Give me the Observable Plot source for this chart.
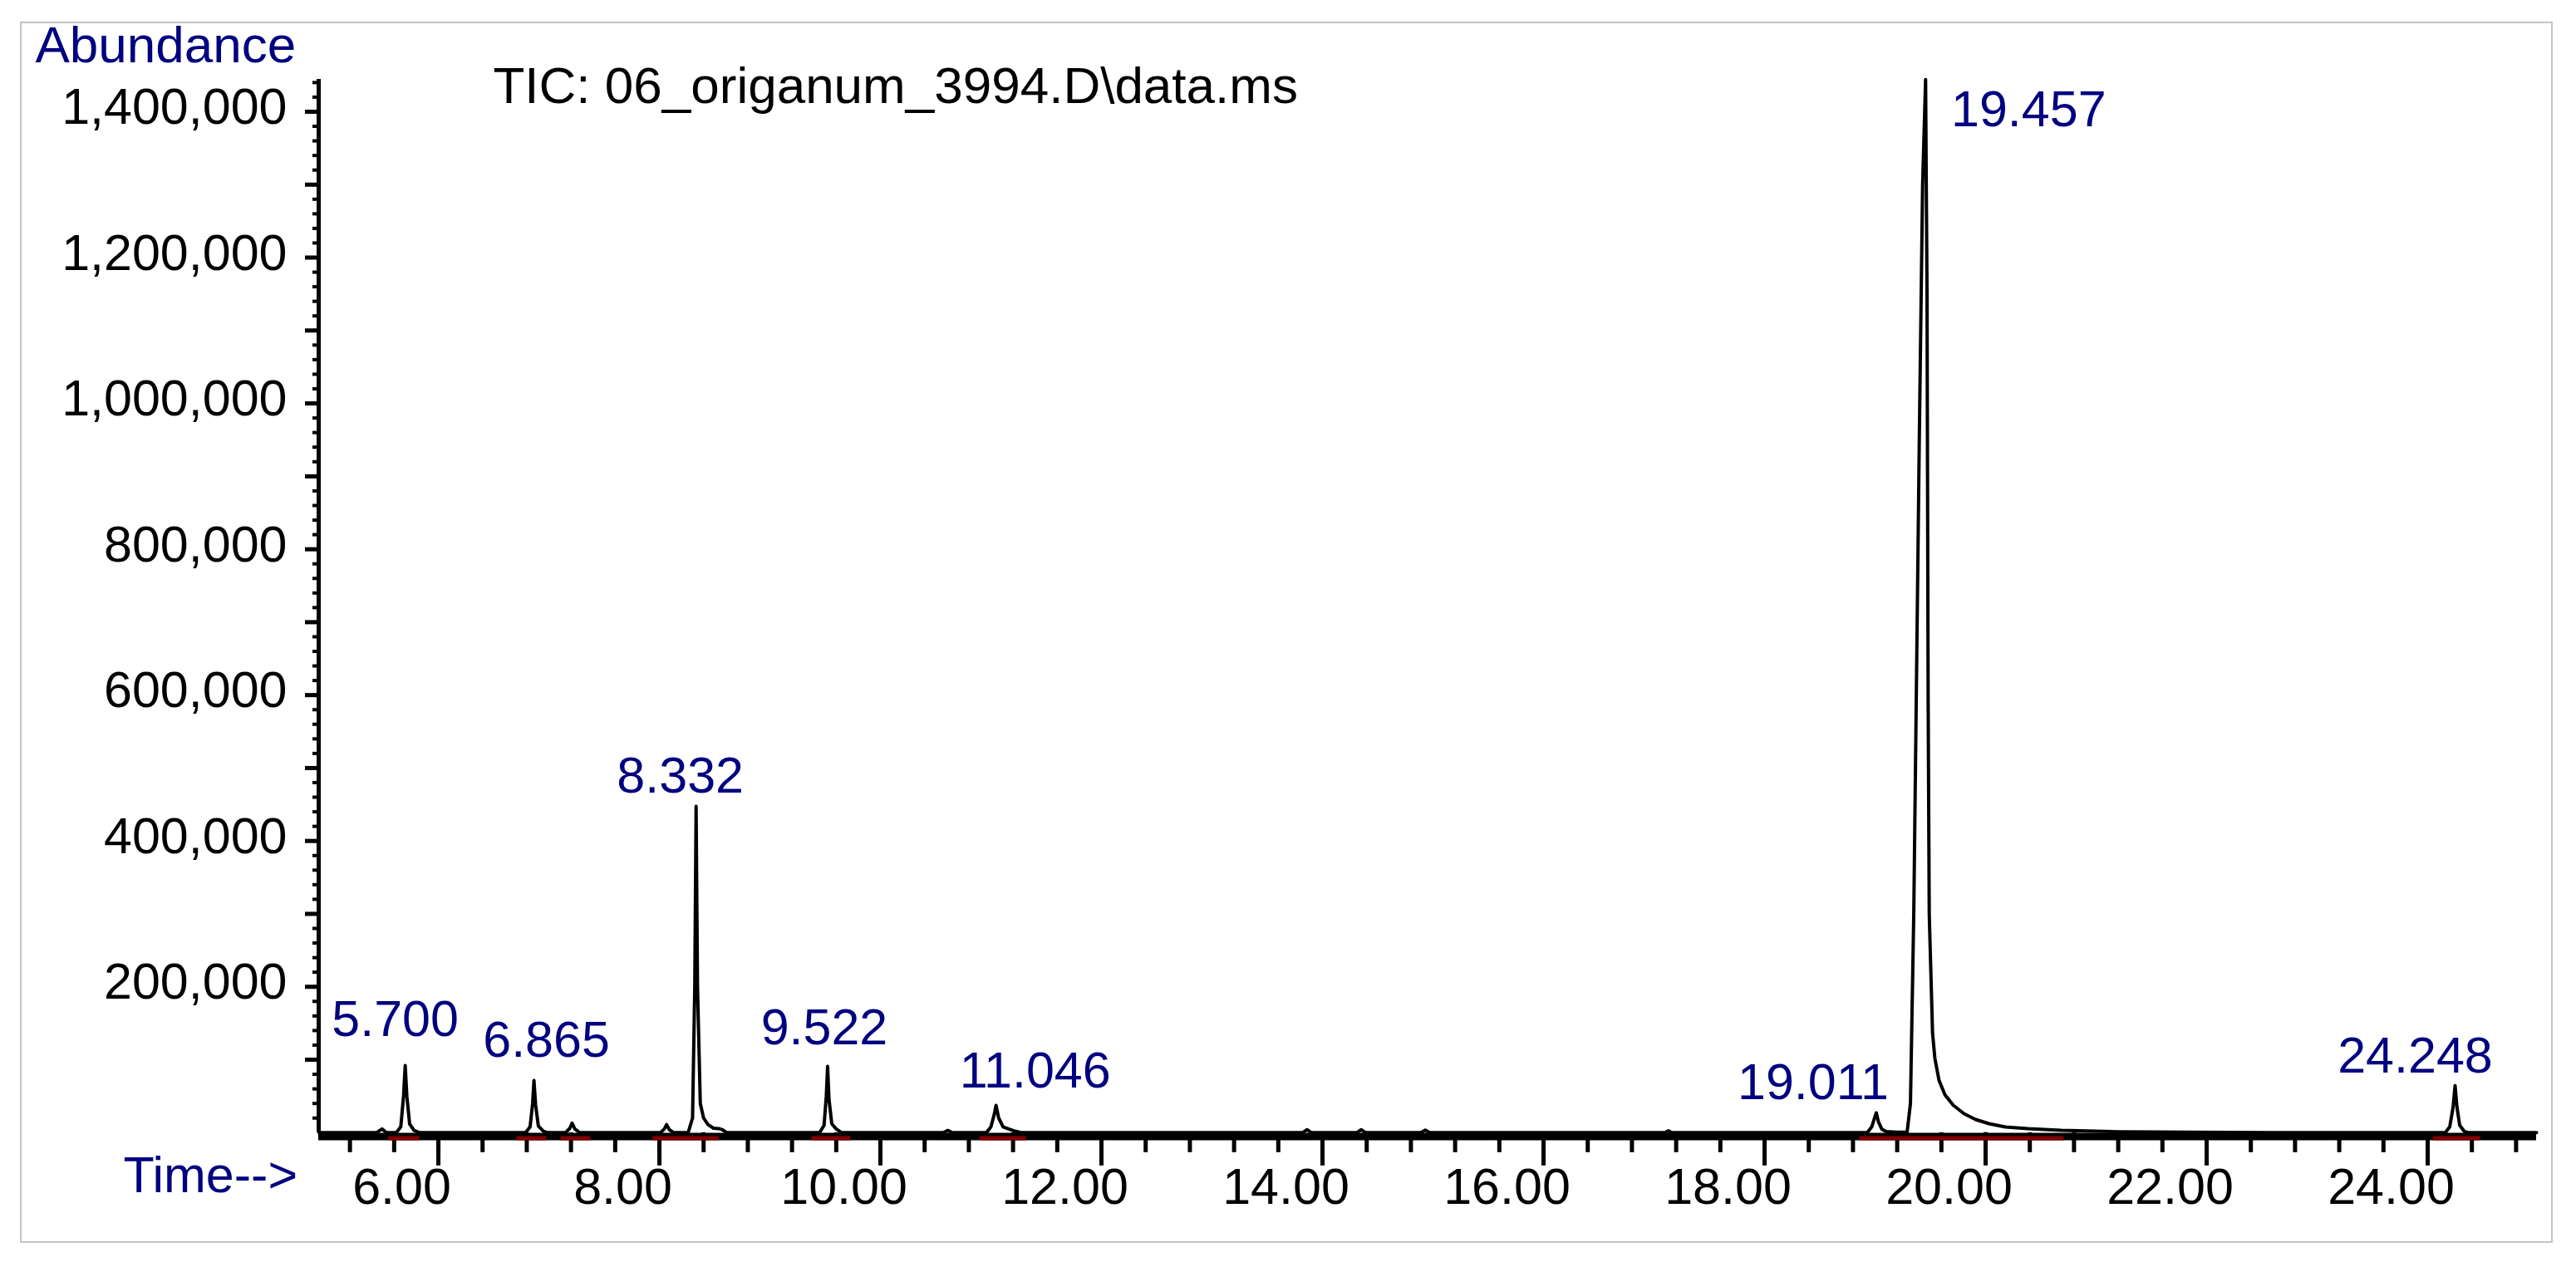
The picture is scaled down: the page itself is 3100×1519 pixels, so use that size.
<!DOCTYPE html>
<html>
<head>
<meta charset="utf-8">
<script src="https://cdn.jsdelivr.net/npm/d3@7"></script>
<script src="https://cdn.jsdelivr.net/npm/@observablehq/plot@0.6"></script>
<style>
  html, body { margin: 0; padding: 0; background: #fff; }
  #wrap { position: relative; width: 3100px; height: 1519px; background: #fff; }
  #border { position: absolute; left: 24px; top: 26px; width: 3048px; height: 1470px; border: 2px solid #c4c4c4; box-sizing: border-box; pointer-events: none; }
  #wrap svg text { font-stretch: normal; }
</style>
</head>
<body>
<div id="wrap"><div id="border"></div></div>
<script>
// ---- Data ----
const title = "TIC: 06_origanum_3994.D\\data.ms";
const yTitle = "Abundance";
const xTitle = "Time-->";

// Trace vertices: retention time (min) and abundance
const traceTime = [
  4.92, 5.44, 5.49, 5.53,
  5.62, 5.66, 5.685, 5.700, 5.715, 5.74, 5.78, 5.83,
  6.79, 6.83, 6.853, 6.865, 6.88, 6.905, 6.95, 6.99,
  7.15, 7.19, 7.21, 7.235, 7.28,
  8.01, 8.045, 8.065, 8.09, 8.13,
  8.26, 8.30, 8.32, 8.332, 8.345, 8.37, 8.40, 8.44, 8.49, 8.54, 8.57, 8.61,
  9.45, 9.49, 9.51, 9.522, 9.535, 9.56, 9.60, 9.65,
  10.57, 10.61, 10.65,
  10.96, 11.00, 11.03, 11.046, 11.07, 11.11, 11.16, 11.22, 11.27,
  13.82, 13.86, 13.90, 14.31, 14.35, 14.39, 14.89, 14.93, 14.97, 17.10, 17.13, 17.16,
  18.93, 18.97, 18.995, 19.011, 19.03, 19.06, 19.10, 19.20,
  19.29, 19.32, 19.35, 19.40, 19.43, 19.457, 19.47, 19.48, 19.49, 19.52, 19.541, 19.579,
  19.632, 19.707, 19.805, 19.91, 20.03, 20.18, 20.383, 20.684, 21.188, 21.835, 22.56,
  24.16, 24.20, 24.23, 24.248, 24.265, 24.29, 24.33, 24.37,
  24.985
];
const traceAbundance = [
  0, 0, 5000, 0,
  0, 8000, 50000, 92000, 50000, 12000, 3000, 0,
  0, 8000, 40000, 71500, 38000, 9000, 2000, 0,
  0, 6000, 13000, 5000, 0,
  0, 5000, 11000, 4000, 0,
  0, 20000, 200000, 447500, 200000, 40000, 20000, 11000, 6000, 5500, 4000, 0,
  0, 10000, 50000, 90800, 45000, 12000, 5000, 0,
  0, 3000, 0,
  0, 8000, 25000, 37400, 20000, 8000, 5000, 2000, 0,
  0, 4000, 0, 0, 4000, 0, 0, 3500, 0, 0, 2500, 0,
  0, 8000, 20000, 27100, 15000, 5000, 1500, 500,
  1000, 40000, 300000, 950000, 1300000, 1444000, 1150000, 600000, 300000, 136500, 102000, 71500,
  52000, 37600, 26000, 18000, 12300, 7700, 5400, 3100, 1300, 600, 0,
  0, 8000, 35000, 64500, 35000, 10000, 2000, 0,
  0
];

// Labelled peaks
const peakLabels = ["5.700", "6.865", "8.332", "9.522", "11.046", "19.011", "19.457", "24.248"];
const peakTimes  = [5.700, 6.865, 8.332, 9.522, 11.046, 19.011, 19.457, 24.248];
const peakHeights = [92000, 71500, 447500, 90800, 37400, 27100, 1444000, 64500];

// Integration baselines (start, end in min)
const integStart = [5.55, 6.71, 7.11, 7.94, 9.38, 10.90, 18.86, 19.26, 24.05];
const integEnd   = [5.83, 6.98, 7.38, 8.54, 9.73, 11.32, 19.26, 20.71, 24.48];

// Axis ticks
const xMajorTicks = [6, 8, 10, 12, 14, 16, 18, 20, 22, 24];
const yLabelTicks = [200000, 400000, 600000, 800000, 1000000, 1200000, 1400000];

// ---- Layout / style (not data) ----
const labelOffsets = [[-12, -55], [15, -48], [-19, -36], [-4, -46], [47, -41], [-76, -36], [124, 37], [-48, -35]];
const navy = "#000080";
const xMinorTicks = d3.range(5.2, 25.0, 0.4).map(v => +v.toFixed(1));
const yMinorTicks = d3.range(20000, 1440001, 20000);
const yMidTicks = d3.range(100000, 1440001, 100000);

const trace = traceTime.map((t, i) => ({t, a: traceAbundance[i]}));
const peaks = peakLabels.map((l, i) => ({label: l, t: peakTimes[i], a: peakHeights[i]}));
const integ = integStart.map((s, i) => ({s, e: integEnd[i]}));

const labelMarks = peaks.map((p, i) => Plot.text([p], {
  x: "t", y: "a", text: "label", fill: navy, fontSize: 61,
  textAnchor: "middle", lineAnchor: "middle",
  dx: labelOffsets[i][0], dy: labelOffsets[i][1]
}));

const chart = Plot.plot({
  width: 3100,
  height: 1519,
  marginLeft: 383,
  marginRight: 48,
  marginTop: 95,
  marginBottom: 156.2,
  style: {fontFamily: "'Liberation Sans', Arial, sans-serif", fontSize: "60px", background: "#fff", color: "#000"},
  x: {domain: [4.917, 24.985], label: null},
  y: {domain: [0, 1444400], label: null},
  marks: [
    // y axis ticks
    Plot.axisY(yMinorTicks, {tickSize: 7, strokeWidth: 4, fill: "none", label: null}),
    Plot.axisY(yMidTicks, {tickSize: 16, strokeWidth: 5, fill: "none", label: null}),
    Plot.axisY(yLabelTicks, {tickSize: 0, tickPadding: 38, dy: -5, fontSize: 61, tickFormat: d3.format(","), label: null}),
    // x axis ticks
    Plot.axisX(xMinorTicks, {tickSize: 24, strokeWidth: 5, fill: "none", label: null}),
    Plot.axisX(xMajorTicks, {tickSize: 40, strokeWidth: 5, fill: "none", label: null}),
    Plot.axisX(xMajorTicks, {tickSize: 0, tickPadding: 42, dx: -44, fontSize: 61, tickFormat: d3.format(".2f"), label: null}),
    // axis lines
    Plot.ruleX([4.917], {strokeWidth: 5, stroke: "#000"}),
    Plot.ruleY([0], {strokeWidth: 9, stroke: "#000", dy: 4.7}),
    // integration baselines
    Plot.ruleY(integ, {x1: "s", x2: "e", y: () => 0, stroke: "#800000", strokeWidth: 5, dy: 6.7}),
    // chromatogram
    Plot.line(trace, {x: "t", y: "a", stroke: "#000", strokeWidth: 4}),
    // peak labels
    ...labelMarks,
    // titles
    Plot.text([yTitle], {text: d => d, frameAnchor: "top-left", textAnchor: "start", lineAnchor: "middle", dx: -341, dy: -40.8, fill: navy, fontSize: 62}),
    Plot.text([title], {text: d => d, frameAnchor: "top-left", textAnchor: "start", lineAnchor: "middle", dx: 210, dy: 8.2, fill: "#000", fontSize: 62}),
    Plot.text([xTitle], {text: d => d, frameAnchor: "bottom-left", textAnchor: "start", lineAnchor: "middle", dx: -235, dy: 52.4, fill: navy, fontSize: 61})
  ]
});
document.getElementById("wrap").prepend(chart);
</script>
</body>
</html>
